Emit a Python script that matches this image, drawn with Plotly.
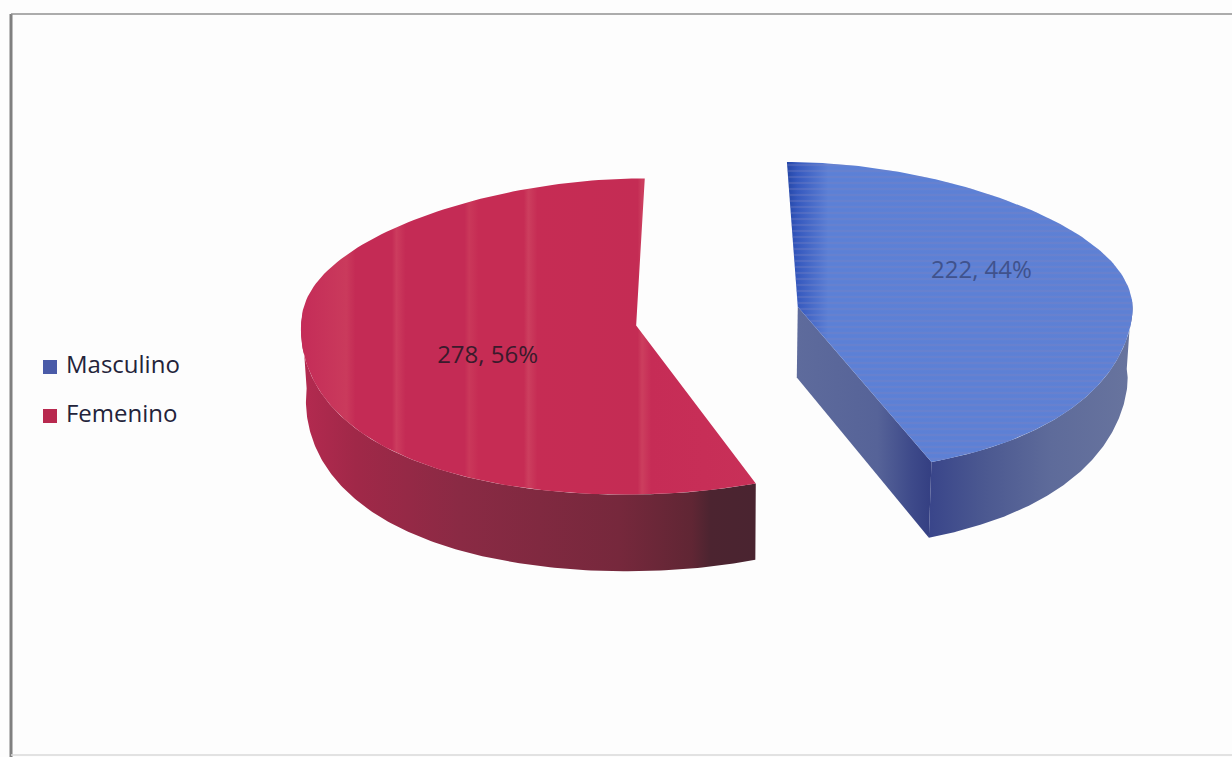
import numpy as np
import plotly.graph_objects as go

# Survey totals by sex
categories = ["Masculino", "Femenino"]
values = [222, 278]
swatch_colors = ["#4A5BA8", "#B8294F"]
top_colors = ["#5C80D6", "#C62C56"]
label_colors = ["#40528C", "#3A1A2C"]
label_radii = [0.6, 0.48]
label_turn = [-12, -14]

total = sum(values)
sweeps = [v / total * 360 for v in values]

# Simple perspective camera for the exploded 3D pie
X0, Y0 = 717, 316
FX, FY, FZ = 335, 156, 71
WIDEN = 0.12
PERSPECTIVE_Y = 0.07
DEPTH_SHRINK = 0.012
EXPLODE = 0.245
EXPLODE_LIFT = 1.4


def project(x, y, z=0.0):
    sx = (1 - DEPTH_SHRINK * z) * (1 - WIDEN * y * np.abs(y))
    sy = 1 / (1 + PERSPECTIVE_Y * y)
    return X0 + FX * sx * x, Y0 - FY * sy * y + FZ * sy * z


def wedge_point(theta_deg, radius, centre, z=0.0):
    t = np.radians(theta_deg)
    return project(centre[0] + radius * np.sin(t), centre[1] + radius * np.cos(t), z)


def explode_centre(start, sweep):
    mid = np.radians(start + sweep / 2)
    return EXPLODE * np.sin(mid), EXPLODE * EXPLODE_LIFT * np.cos(mid)


def arc(start, end, centre, z=0.0, n=160):
    xs, ys = wedge_point(np.linspace(start, end, n), 1.0, centre, z)
    return list(xs), list(ys)


def solid(fig, xs, ys, colorscale=None, gradient="horizontal", color=None):
    fill = dict(type=gradient, colorscale=colorscale) if colorscale else None
    fig.add_trace(go.Scatter(
        x=xs + xs[:1], y=ys + ys[:1], mode="lines", fill="toself",
        line=dict(width=0, color=color or "rgba(0,0,0,0)"),
        fillcolor=color, fillgradient=fill,
        hoverinfo="skip", showlegend=False,
    ))


def stripes(fig, xs, ys, shape, fg):
    fig.add_trace(go.Scatter(
        x=xs + xs[:1], y=ys + ys[:1], mode="lines", fill="toself",
        line=dict(width=0), fillcolor="rgba(0,0,0,0)",
        fillpattern=dict(shape=shape, size=6, solidity=0.35, fgcolor=fg, bgcolor="rgba(0,0,0,0)"),
        hoverinfo="skip", showlegend=False,
    ))


fig = go.Figure()

blue_start, blue_end = 0, sweeps[0]
red_start, red_end = sweeps[0], 360
blue_c = explode_centre(blue_start, sweeps[0])
red_c = explode_centre(red_start, sweeps[1])

# Blue slice: cut face, outer wall, then top
ax, ay = project(*blue_c)
ax_low, ay_low = project(*blue_c, 1.0)
ex, ey = wedge_point(blue_end, 1.0, blue_c)
ex_low, ey_low = wedge_point(blue_end, 1.0, blue_c, 1.0)
solid(fig, [ax, ex, ex_low, ax_low], [ay, ey, ey_low, ay_low],
      colorscale=[[0, "#5E6B9C"], [0.6, "#566398"], [0.85, "#3E4A8A"], [1, "#343F82"]])
wx, wy = arc(87, blue_end, blue_c)
wxl, wyl = arc(87, blue_end, blue_c, 1.0)
solid(fig, wx + wxl[::-1], wy + wyl[::-1],
      colorscale=[[0, "#39458A"], [0.25, "#4A5790"], [0.6, "#5E6B9A"], [1, "#68749E"]])
tx, ty = arc(blue_start, blue_end, blue_c)
blue_top_x, blue_top_y = [float(ax)] + tx, [float(ay)] + ty
solid(fig, blue_top_x, blue_top_y,
      colorscale=[[0, "#2446A8"], [0.03, "#3558BE"], [0.12, top_colors[0]], [1, "#5E80D4"]])
stripes(fig, blue_top_x, blue_top_y, "-", "rgba(125,130,190,0.6)")

# Red slice: outer wall, then top
wx, wy = arc(red_start, 273, red_c)
wxl, wyl = arc(red_start, 273, red_c, 1.0)
solid(fig, wx + wxl[::-1], wy + wyl[::-1],
      colorscale=[[0, "#B42A50"], [0.12, "#A02848"], [0.35, "#8A2A44"],
                  [0.7, "#76283C"], [0.86, "#602634"], [0.9, "#4C2430"], [1, "#4A2430"]])
tx, ty = arc(red_start, red_end, red_c)
ax, ay = project(*red_c)
solid(fig, [float(ax)] + tx, [float(ay)] + ty,
      colorscale=[[0, "#C42C58"], [0.1, "#CA3A5C"], [0.12, "#C42B55"], [0.2, "#C42B55"],
                  [0.21, "#CC3C5E"], [0.23, "#C42B55"], [0.36, "#C42B55"], [0.37, "#CA385A"],
                  [0.39, "#C62C54"], [0.49, "#C62C54"], [0.5, "#CC3E5E"], [0.52, "#C62C54"],
                  [0.74, "#C42C54"], [0.75, "#CC3E5E"], [0.77, "#C62C56"], [1, "#C83058"]])

# Value labels sit on each top face, just off the slice's mid angle
for cat_i, (start, sweep, centre) in enumerate(
        [(blue_start, sweeps[0], blue_c), (red_start, sweeps[1], red_c)]):
    lx, ly = wedge_point(start + sweep / 2 + label_turn[cat_i], label_radii[cat_i], centre)
    fig.add_trace(go.Scatter(
        x=[lx], y=[ly], mode="text",
        text=[f"{values[cat_i]}, {round(values[cat_i] / total * 100)}%"],
        textfont=dict(family="Open Sans", size=24, color=label_colors[cat_i]),
        hoverinfo="skip", showlegend=False,
    ))

# Legend column on the left
legend_y = [367, 416]
for name, col, y in zip(categories, swatch_colors, legend_y):
    fig.add_trace(go.Scatter(
        x=[50], y=[y], mode="markers+text", text=[" " + name], textposition="middle right",
        marker=dict(symbol="square", size=14, color=col),
        textfont=dict(family="Open Sans", size=24, color="#23233A"),
        hoverinfo="skip", showlegend=False,
    ))

fig.update_layout(
    width=1232, height=757, margin=dict(l=0, r=0, t=0, b=0),
    paper_bgcolor="#FDFDFD", plot_bgcolor="#FDFDFD", showlegend=False,
    xaxis=dict(range=[0, 1232], visible=False, fixedrange=True),
    yaxis=dict(range=[757, 0], visible=False, fixedrange=True),
    shapes=[
        dict(type="line", xref="x", yref="y", x0=11, x1=11, y0=14, y1=757,
             line=dict(color="#808080", width=3)),
        dict(type="line", xref="x", yref="y", x0=11, x1=1232, y0=14, y1=14,
             line=dict(color="#909090", width=1.5)),
        dict(type="line", xref="x", yref="y", x0=11, x1=1232, y0=755, y1=755,
             line=dict(color="#D8D8D8", width=1.5)),
    ],
)

fig.write_html("out.html")
